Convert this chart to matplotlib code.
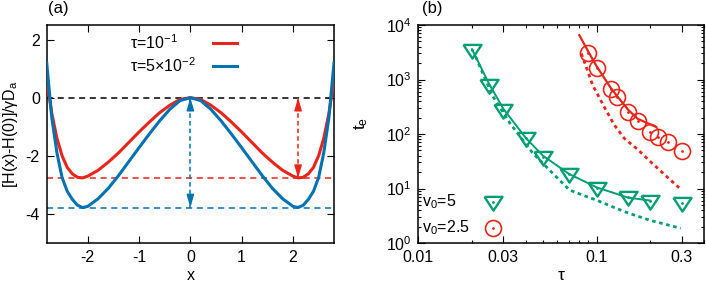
import numpy as np
import matplotlib
matplotlib.use("Agg")
import matplotlib.pyplot as plt
from matplotlib.ticker import FixedLocator, NullFormatter, FixedFormatter

plt.rcParams['font.family'] = ['Liberation Sans', 'DejaVu Sans']
plt.rcParams['mathtext.fontset'] = 'custom'
plt.rcParams['mathtext.rm'] = 'Liberation Sans'
plt.rcParams['mathtext.it'] = 'Liberation Sans'
plt.rcParams['axes.unicode_minus'] = False

# ---------------- data: panel (a) ----------------
x_half = [0.0, 0.2, 0.4, 0.6, 0.8, 1.0, 1.2, 1.4, 1.6, 1.8, 2.0, 2.1, 2.2,
          2.3, 2.4, 2.5, 2.6, 2.7, 2.8]
H_red_half = [0.0, -0.06, -0.26, -0.52, -0.84, -1.18, -1.54, -1.90, -2.22,
              -2.50, -2.70, -2.76, -2.74, -2.62, -2.40, -2.00, -1.40, -0.55, 0.60]
H_blue_half = [0.0, -0.10, -0.40, -0.80, -1.25, -1.72, -2.20, -2.68, -3.12,
               -3.48, -3.74, -3.78, -3.70, -3.50, -3.22, -2.75, -1.90, -0.70, 1.20]
min_red = -2.77
min_blue = -3.78
x_arrow_red = 2.1
x_arrow_blue = 0.0
legend_a = [r'$\tau$=10$^{-1}$', r'$\tau$=5$\times$10$^{-2}$']

# ---------------- data: panel (b) ----------------
tau_v5 = [0.02, 0.025, 0.03, 0.04, 0.05, 0.07, 0.1, 0.15, 0.2, 0.3]
te_v5 = [3500, 790, 276, 83, 38, 18.5, 10.1, 6.9, 5.9, 5.5]
tau_v25 = [0.09, 0.1, 0.12, 0.13, 0.15, 0.17, 0.2, 0.22, 0.25, 0.3]
te_v25 = [3030, 1650, 660, 483, 257, 173, 110, 89, 72, 49]

tau_v5_solid = [0.02, 0.025, 0.03, 0.04, 0.05, 0.07, 0.1, 0.15, 0.2]
te_v5_solid = [3600, 820, 290, 85, 40, 18.5, 10.5, 6.8, 6.0]
tau_v5_dot = [0.021, 0.0221, 0.0262, 0.0326, 0.04, 0.0439, 0.055, 0.0704,
              0.085, 0.1, 0.125, 0.152, 0.2, 0.25, 0.296]
te_v5_dot = [2600, 1750, 490, 159, 66, 44.3, 21, 9.4, 7.4, 6.1, 4.5, 3.5,
             2.6, 2.15, 1.86]

tau_v25_solid = [0.08, 0.09, 0.1, 0.12, 0.13, 0.15, 0.17, 0.2, 0.215]
te_v25_solid = [6500, 3200, 1750, 700, 500, 280, 190, 150, 135]
tau_v25_dot = [0.082, 0.0854, 0.095, 0.11, 0.125, 0.143, 0.17, 0.205, 0.25, 0.29]
te_v25_dot = [3000, 2100, 790, 320, 150, 83, 52, 29, 16, 10.3]
legend_b = [r'v$_0$=5', r'v$_0$=2.5']

RED = '#e8251a'
BLUE = '#0072b2'
GREEN = '#009e73'

# flattened downward triangle (gnuplot style)
TRI = [(-1.0, 0.62), (1.0, 0.62), (0.0, -0.9), (-1.0, 0.62)]

W, H = 706, 287
fig = plt.figure(figsize=(W / 100, H / 100), dpi=100)

def axrect(x0, x1, ytop, ybot):
    return [x0 / W, 1 - ybot / H, (x1 - x0) / W, (ybot - ytop) / H]

axa = fig.add_axes(axrect(46.7, 334, 25, 243))
axb = fig.add_axes(axrect(418.3, 704, 25, 243))

FS = 11.5

# ---------- panel (a) ----------
xh = np.array(x_half)
xfull = np.concatenate([-xh[::-1], xh[1:]])
red_full = np.concatenate([np.array(H_red_half)[::-1], np.array(H_red_half)[1:]])
blue_full = np.concatenate([np.array(H_blue_half)[::-1], np.array(H_blue_half)[1:]])

xl = (-2.8, 2.8)
axa.plot(xl, [0, 0], color='black', lw=1.1, ls=(0, (4, 3)), zorder=2)
axa.plot(xl, [min_red, min_red], color=RED, lw=1.1, ls=(0, (4, 3)), zorder=2)
axa.plot(xl, [min_blue, min_blue], color=BLUE, lw=1.1, ls=(0, (4, 3)), zorder=2)

axa.plot(xfull, red_full, color=RED, lw=2.2, zorder=3)
axa.plot(xfull, blue_full, color=BLUE, lw=2.2, zorder=3)

def dbl_arrow(ax, x, y0, y1, color):
    ax.plot([x, x], [y0, y1], color=color, lw=1.1, ls=(0, (3, 2)), zorder=4)
    hl = 0.32
    ax.annotate('', xy=(x, y0), xytext=(x, y0 - hl),
                arrowprops=dict(arrowstyle='-|>,head_length=0.75,head_width=0.22',
                                color=color, lw=1.1, shrinkA=0, shrinkB=0), zorder=5)
    ax.annotate('', xy=(x, y1), xytext=(x, y1 + hl),
                arrowprops=dict(arrowstyle='-|>,head_length=0.75,head_width=0.22',
                                color=color, lw=1.1, shrinkA=0, shrinkB=0), zorder=5)

dbl_arrow(axa, x_arrow_red, 0.0, min_red, RED)
dbl_arrow(axa, x_arrow_blue, 0.0, min_blue, BLUE)

axa.set_xlim(-2.8, 2.8)
axa.set_ylim(-5, 2.5)
axa.set_xticks([-2, -1, 0, 1, 2])
axa.set_yticks([-4, -2, 0, 2])
axa.tick_params(direction='in', top=True, right=True, labelsize=FS, length=5,
                width=0.8, pad=5)
axa.set_xlabel('x', fontsize=FS, labelpad=2)
axa.set_ylabel(r'[H(x)-H(0)]/$\gamma$D$_\mathrm{a}$', fontsize=FS, labelpad=4)

# legend (a)
for i, (lab, col) in enumerate(zip(legend_a, [RED, BLUE])):
    yy = 0.919 - i * 0.106
    axa.text(0.29, yy, lab, transform=axa.transAxes, fontsize=FS,
             va='center', ha='left')
    axa.plot([0.578, 0.663], [yy, yy], transform=axa.transAxes, color=col, lw=2.2)

fig.text(48 / W, 1 - 9 / H, '(a)', fontsize=FS + 0.5, va='center', ha='left')

# ---------- panel (b) ----------
axb.set_xscale('log')
axb.set_yscale('log')
axb.plot(tau_v5_solid, te_v5_solid, color=GREEN, lw=1.4, zorder=2)
axb.plot(tau_v5_dot, te_v5_dot, color=GREEN, lw=2.0, ls=(0, (1.3, 1.3)), zorder=2)
axb.plot(tau_v25_solid, te_v25_solid, color=RED, lw=1.6, zorder=2)
axb.plot(tau_v25_dot, te_v25_dot, color=RED, lw=2.0, ls=(0, (1.3, 1.3)), zorder=2)

axb.plot(tau_v5, te_v5, ls='none', marker=TRI, ms=13, mfc='none', mec=GREEN,
         mew=1.7, zorder=3)
axb.plot(tau_v5, te_v5, ls='none', marker='.', ms=2, color=GREEN, zorder=3)
axb.plot(tau_v25, te_v25, ls='none', marker='o', ms=11.5, mfc='none', mec=RED,
         mew=1.2, zorder=3)
axb.plot(tau_v25, te_v25, ls='none', marker='.', ms=2, color=RED, zorder=3)

axb.set_xlim(0.01, 0.4)
axb.set_ylim(1, 1e4)
axb.xaxis.set_major_locator(FixedLocator([0.01, 0.03, 0.1, 0.3]))
axb.xaxis.set_major_formatter(FixedFormatter(['0.01', '0.03', '0.1', '0.3']))
minors_x = [0.02, 0.04, 0.05, 0.06, 0.07, 0.08, 0.09, 0.2, 0.4]
axb.xaxis.set_minor_locator(FixedLocator(minors_x))
axb.xaxis.set_minor_formatter(NullFormatter())
axb.yaxis.set_major_locator(FixedLocator([1, 10, 100, 1000, 10000]))
axb.yaxis.set_major_formatter(FixedFormatter([r'10$^0$', r'10$^1$', r'10$^2$',
                                              r'10$^3$', r'10$^4$']))
minors_y = [m * 10 ** d for d in range(4) for m in range(2, 10)]
axb.yaxis.set_minor_locator(FixedLocator(minors_y))
axb.yaxis.set_minor_formatter(NullFormatter())
axb.tick_params(which='both', direction='in', top=True, right=True,
                labelsize=FS, width=0.8)
axb.tick_params(which='major', length=5, pad=5)
axb.tick_params(which='minor', length=2.5)
axb.set_xlabel(r'$\tau$', fontsize=FS + 1, labelpad=2)
axb.set_ylabel(r't$_\mathrm{e}$', fontsize=FS + 1)
axb.yaxis.set_label_coords(-0.17, 0.55)

# legend (b)
axb.text(0.012, 0.189, legend_b[0], transform=axb.transAxes, fontsize=FS,
         va='center', ha='left')
axb.plot([0.2625], [0.189], transform=axb.transAxes, marker=TRI, ms=13,
         mfc='none', mec=GREEN, mew=1.7)
axb.plot([0.2625], [0.189], transform=axb.transAxes, marker='.', ms=2, color=GREEN)
axb.text(0.012, 0.070, legend_b[1], transform=axb.transAxes, fontsize=FS,
         va='center', ha='left')
axb.plot([0.2625], [0.070], transform=axb.transAxes, marker='o', ms=11.5,
         mfc='none', mec=RED, mew=1.2)
axb.plot([0.2625], [0.070], transform=axb.transAxes, marker='.', ms=2, color=RED)

fig.text(422 / W, 1 - 9 / H, '(b)', fontsize=FS + 0.5, va='center', ha='left')

for ax in (axa, axb):
    for s in ax.spines.values():
        s.set_linewidth(1.1)

fig.savefig('out.png', dpi=100)
